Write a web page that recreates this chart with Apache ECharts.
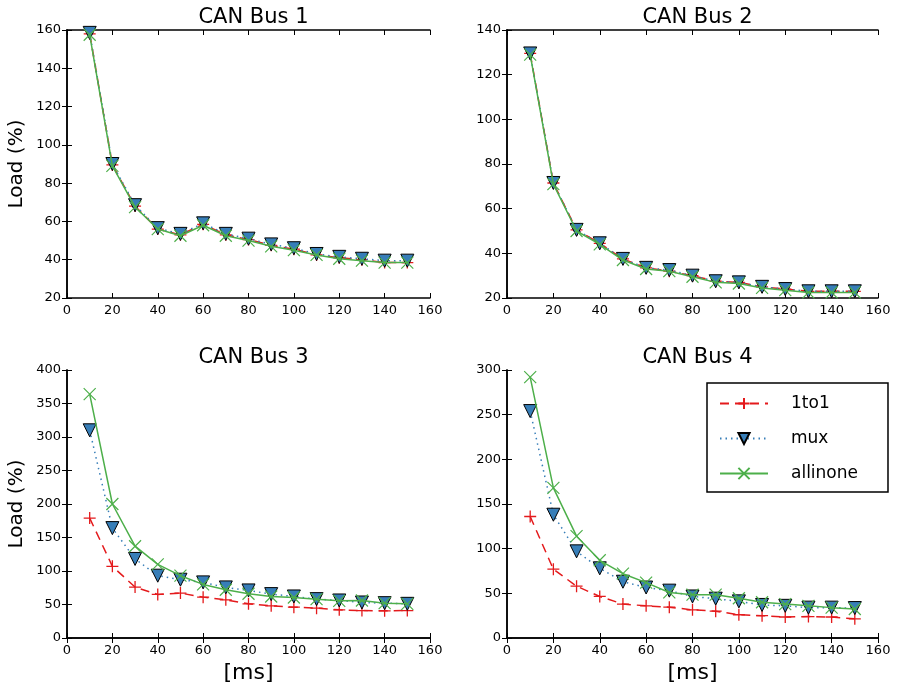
<!DOCTYPE html>
<html>
<head>
<meta charset="utf-8">
<script src="https://cdn.jsdelivr.net/npm/echarts@6/dist/echarts.min.js"></script>
<style>
html, body { margin: 0; padding: 0; background: #fff; }
#chart { width: 898px; height: 689px; }
</style>
</head>
<body>
<div id="chart"></div>
<script>
var periods = [10, 20, 30, 40, 50, 60, 70, 80, 90, 100, 110, 120, 130, 140, 150];
var series_names = ['1to1', 'mux', 'allinone'];
var bus_titles = ['CAN Bus 1', 'CAN Bus 2', 'CAN Bus 3', 'CAN Bus 4'];

var bus1_1to1 = [158, 89.5, 68, 56, 53, 58.5, 53, 50.5, 47.5, 45.5, 42.5, 41, 40, 38.5, 38.5];
var bus1_mux = [158.5, 90, 68.5, 56.5, 53.5, 59, 53.5, 51, 48, 46, 43, 41.5, 40.5, 39.5, 39.5];
var bus1_allinone = [157.5, 89, 67.5, 56, 52.5, 58, 52.5, 50, 47, 45, 42.5, 40.5, 39.5, 38.5, 38.5];

var bus2_1to1 = [129.5, 71.5, 50.5, 44.5, 37.5, 33.5, 32, 30, 27.5, 27, 25, 24, 23, 23, 23];
var bus2_mux = [129.5, 71.5, 50.5, 44.5, 37.5, 33.5, 32.5, 30, 27.5, 27, 25, 24, 23, 23, 23];
var bus2_allinone = [129, 71, 50, 44, 37, 33, 32, 29.5, 27, 26.5, 24.5, 23.5, 22.5, 22.5, 22.5];

var bus3_1to1 = [179, 107, 76, 65, 67, 61, 57, 51, 48, 46, 44.5, 42, 41, 40.5, 41];
var bus3_mux = [310, 164, 118, 93, 87, 83, 75.5, 71, 65.5, 62, 58, 56, 53, 52, 51];
var bus3_allinone = [364, 200, 137, 110, 93, 80, 72, 66, 62, 60.5, 58, 55.5, 56, 52, 51];

var bus4_1to1 = [136, 77, 58, 46.5, 38, 36, 34.5, 31.5, 30, 26, 25, 23.5, 24, 23.5, 21.5];
var bus4_mux = [254, 138, 97, 78, 63, 56.5, 53, 46.5, 44, 41, 37, 36, 34, 34, 33.5];
var bus4_allinone = [292, 168, 114, 87, 72, 62, 51, 48.5, 48.5, 44.5, 40, 38, 36, 34, 32.5];

var y_min = [20, 20, 0, 0];
var y_max = [160, 140, 400, 300];
var y_step = [20, 20, 50, 50];

var bus_data = [
	[bus1_1to1, bus1_mux, bus1_allinone],
	[bus2_1to1, bus2_mux, bus2_allinone],
	[bus3_1to1, bus3_mux, bus3_allinone],
	[bus4_1to1, bus4_mux, bus4_allinone]
];

var font = 'DejaVu Sans';
var grids = [
	{left: 67, top: 30, width: 363, height: 268},
	{left: 507, top: 30, width: 371, height: 268},
	{left: 67, top: 370, width: 363, height: 268},
	{left: 507, top: 370, width: 371, height: 268}
];

var plus_path = 'path://M0,5 L10,5 M5,0 L5,10';
var cross_path = 'path://M0,0 L10,10 M0,10 L10,0';

function pair(a, b){
	var out = [];
	for(var i = 0; i < a.length; i++){
		out.push([a[i], b[i]]);
	}
	return out;
}

var xAxes = [], yAxes = [], titles = [], series = [];
for(var g = 0; g < 4; g++){
	var frame = {show: true, lineStyle: {color: '#000', width: 1.5}};
	var tick = {show: true, inside: true, length: 5, lineStyle: {color: '#000', width: 1}};
	// bottom and left axes carry labels, top and right only the ticks
	xAxes.push({
		gridIndex: g, type: 'value', min: 0, max: 160, interval: 20, position: 'bottom',
		axisLine: frame, axisTick: tick, splitLine: {show: false},
		axisLabel: {color: '#000', fontSize: 13, fontFamily: font, margin: 6},
		name: g >= 2 ? '[ms]' : '', nameLocation: 'middle', nameGap: 24,
		nameTextStyle: {color: '#000', fontSize: 22, fontFamily: font}
	});
	xAxes.push({
		gridIndex: g, type: 'value', min: 0, max: 160, interval: 20, position: 'top',
		axisLine: frame, axisTick: tick, splitLine: {show: false}, axisLabel: {show: false}
	});
	yAxes.push({
		gridIndex: g, type: 'value', min: y_min[g], max: y_max[g], interval: y_step[g], position: 'left',
		axisLine: frame, axisTick: tick, splitLine: {show: false},
		axisLabel: {color: '#000', fontSize: 13, fontFamily: font, margin: 6},
		name: g % 2 == 0 ? 'Load (%)' : '', nameLocation: 'middle', nameGap: 40,
		nameTextStyle: {color: '#000', fontSize: 20, fontFamily: font}
	});
	yAxes.push({
		gridIndex: g, type: 'value', min: y_min[g], max: y_max[g], interval: y_step[g], position: 'right',
		axisLine: frame, axisTick: tick, splitLine: {show: false}, axisLabel: {show: false}
	});
	titles.push({
		text: bus_titles[g],
		left: grids[g].left + grids[g].width / 2,
		top: g < 2 ? 2 : 342,
		textAlign: 'center',
		textStyle: {color: '#000', fontSize: 21, fontWeight: 'normal', fontFamily: font}
	});

	var d = bus_data[g];
	series.push({
		name: '1to1', type: 'line', xAxisIndex: g * 2, yAxisIndex: g * 2,
		data: pair(periods, d[0]),
		symbol: plus_path, symbolSize: 12,
		itemStyle: {color: '#e41a1c', borderColor: '#e41a1c', borderWidth: 1.3},
		lineStyle: {color: '#e41a1c', width: 1.5, type: [9, 6]},
		z: 2
	});
	series.push({
		name: 'mux', type: 'line', xAxisIndex: g * 2, yAxisIndex: g * 2,
		data: pair(periods, d[1]),
		symbol: 'triangle', symbolRotate: 180, symbolSize: 13,
		itemStyle: {color: '#377eb8', borderColor: '#000', borderWidth: 1},
		lineStyle: {color: '#377eb8', width: 1.5, type: [1.5, 4]},
		z: 3
	});
	series.push({
		name: 'allinone', type: 'line', xAxisIndex: g * 2, yAxisIndex: g * 2,
		data: pair(periods, d[2]),
		symbol: cross_path, symbolSize: 12,
		itemStyle: {color: '#4daf4a', borderColor: '#4daf4a', borderWidth: 1.2},
		lineStyle: {color: '#4daf4a', width: 1.5},
		z: 4
	});
}

var chart = echarts.init(document.getElementById('chart'));
var option = {
	backgroundColor: '#fff',
	animation: false,
	title: titles,
	grid: grids,
	xAxis: xAxes,
	yAxis: yAxes,
	legend: {
		data: series_names,
		orient: 'vertical',
		left: 707,
		top: 383,
		width: 158,
		backgroundColor: '#fff',
		borderColor: '#000',
		borderWidth: 1.5,
		borderRadius: 0,
		padding: [12, 30, 10, 12],
		itemWidth: 48,
		itemHeight: 14,
		itemGap: 18,
		textStyle: {color: '#000', fontSize: 17, fontFamily: font, padding: [0, 0, 0, 18]}
	},
	series: series
};
chart.setOption(option);
</script>
</body>
</html>
